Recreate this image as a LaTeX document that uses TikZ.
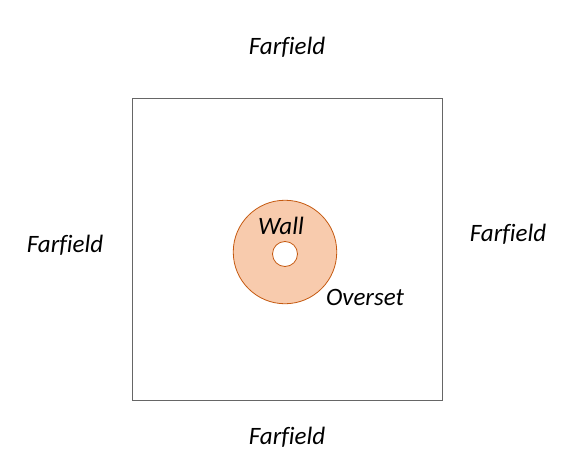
\documentclass[tikz,border=0pt]{standalone}
\usepackage{fontspec}
\setmainfont[Ligatures=NoCommon]{Carlito}
\begin{document}
\begin{tikzpicture}[x=1pt,y=-1pt,
  lab/.style={font=\fontsize{25}{29}\selectfont\itshape, inner sep=0pt, anchor=center},
  boxline/.style={draw=black!60, line width=1pt},
  ringstyle/.style={circle, draw=ringdraw, line width=0.8pt, inner sep=0pt},
]
\definecolor{ringfill}{HTML}{F8CBAD}
\definecolor{ringdraw}{HTML}{C55A11}
\useasboundingbox (0,0) rectangle (575,473);
\draw[boxline] (132.3,98.3) rectangle (442.3,400);
\node[ringstyle, fill=ringfill, minimum size=103.5pt] (outer) at (285,252) {};
\node[ringstyle, fill=white, minimum size=25pt] (inner) at (285,254) {};
\node[lab] (ftop) at (287,47) {Farfield};
\node[lab] (fleft) at (65,245) {Farfield};
\node[lab] (fright) at (508,234) {Farfield};
\node[lab] (fbot) at (287,437) {Farfield};
\node[lab] (wall) at (281,226) {Wall};
\node[lab] (overset) at (365,297) {Overset};
\end{tikzpicture}
\end{document}
